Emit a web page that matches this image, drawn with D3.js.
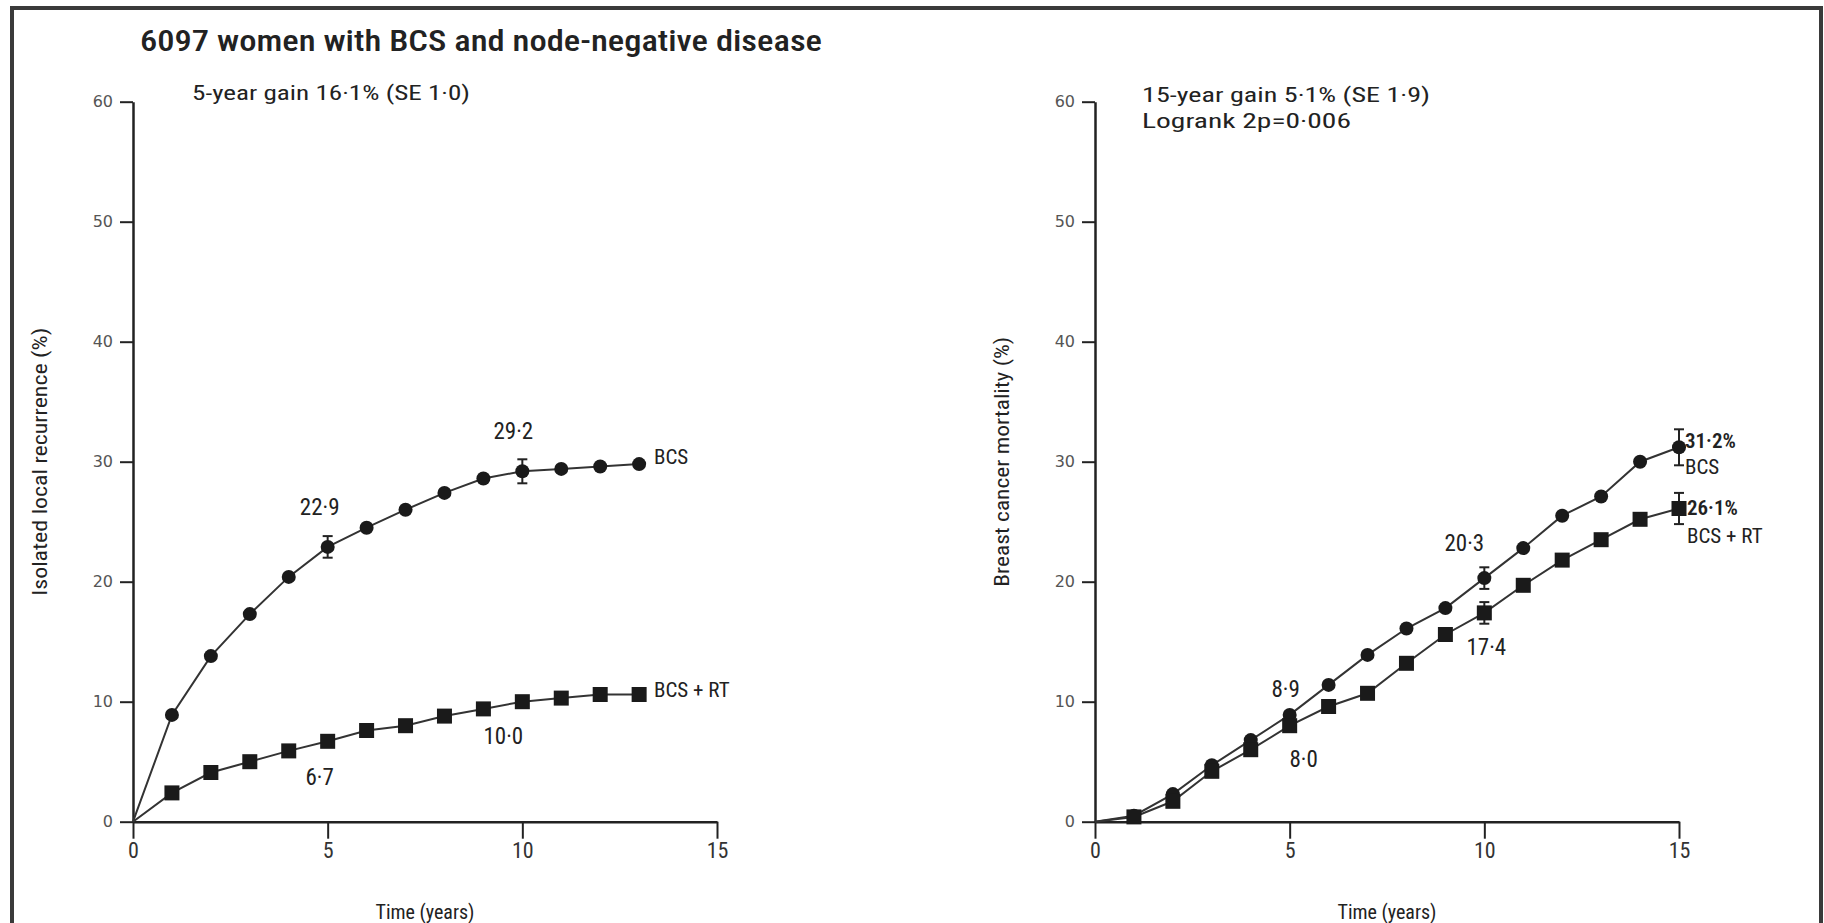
<!DOCTYPE html>
<html>
<head>
<meta charset="utf-8">
<script src="https://cdn.jsdelivr.net/npm/d3@7"></script>
<style>
  html, body { margin: 0; padding: 0; background: #fff; }
  svg { display: block; }
  .cond { font-family: "Liberation Sans Narrow", "Roboto Condensed", "DejaVu Sans Condensed", "Liberation Sans", sans-serif; font-stretch: condensed; }
</style>
</head>
<body>
<script>
// ---------------- DATA ----------------
const titleText = "6097 women with BCS and node-negative disease";
const leftNote = ["5-year gain 16·1% (SE 1·0)"];
const rightNote = ["15-year gain 5·1% (SE 1·9)", "Logrank 2p=0·006"];
const leftYLabel = "Isolated local recurrence (%)";
const rightYLabel = "Breast cancer mortality (%)";
const xLabel = "Time (years)";
const yTicks = [0, 10, 20, 30, 40, 50, 60];
const xTicks = [0, 5, 10, 15];

// Left panel: isolated local recurrence, years 0..13
const yearsLeft = [0, 1, 2, 3, 4, 5, 6, 7, 8, 9, 10, 11, 12, 13];
const bcsLocal   = [0, 8.9, 13.8, 17.3, 20.4, 22.9, 24.5, 26.0, 27.4, 28.6, 29.2, 29.4, 29.6, 29.8];
const bcsRtLocal = [0, 2.4, 4.1, 5.0, 5.9, 6.7, 7.6, 8.0, 8.8, 9.4, 10.0, 10.3, 10.6, 10.6];
const bcsLocalErr   = [{year: 5, se: 0.9}, {year: 10, se: 1.0}];
const bcsRtLocalErr = [];

// Right panel: breast cancer mortality, years 0..15
const yearsRight = [0, 1, 2, 3, 4, 5, 6, 7, 8, 9, 10, 11, 12, 13, 14, 15];
const bcsMort   = [0, 0.5, 2.3, 4.7, 6.8, 8.9, 11.4, 13.9, 16.1, 17.8, 20.3, 22.8, 25.5, 27.1, 30.0, 31.2];
const bcsRtMort = [0, 0.4, 1.7, 4.2, 6.0, 8.0, 9.6, 10.7, 13.2, 15.6, 17.4, 19.7, 21.8, 23.5, 25.2, 26.1];
const bcsMortErr   = [{year: 10, se: 0.9}, {year: 15, se: 1.5}];
const bcsRtMortErr = [{year: 10, se: 0.9}, {year: 15, se: 1.3}];

// Value annotations: [year, value text, dx, dy] relative to the point
const leftAnnBcs   = [[5, "22·9", -8, -40], [10, "29·2", -9, -40]];
const leftAnnRt    = [[5, "6·7", -8, 36], [10, "10·0", -19, 34]];
const rightAnnBcs  = [[5, "8·9", -4, -26], [10, "20·3", -20, -35]];
const rightAnnRt   = [[5, "8·0", 14, 33], [10, "17·4", 2, 34]];

// ---------------- LAYOUT ----------------
const W = 1824, H = 923;
const svg = d3.select("body").append("svg").attr("width", W).attr("height", H);

// frame (top, left, right edges)
svg.append("path")
  .attr("d", `M12,${H} L12,8 L1821,8 L1821,${H}`)
  .attr("fill", "none").attr("stroke", "#3a3a3a").attr("stroke-width", 4);

svg.append("text").attr("class", "cond")
  .attr("x", 140).attr("y", 51)
  .attr("font-size", 29).attr("font-weight", 500).attr("fill", "#222")
  .attr("textLength", 682).attr("lengthAdjust", "spacingAndGlyphs")
  .text(titleText);

const y0 = 821.7, y60 = 101.7;

function panel(cfg) {
  const x = d3.scaleLinear().domain([0, 15]).range([cfg.x0, cfg.x0 + 584]);
  const y = d3.scaleLinear().domain([0, 60]).range([y0, y60]);
  const g = svg.append("g");

  // Y axis
  const ya = g.append("g").attr("transform", `translate(${cfg.x0},0)`)
    .call(d3.axisLeft(y).tickValues(yTicks).tickSize(13).tickSizeOuter(0).tickPadding(7));
  ya.select(".domain").attr("stroke", "#222").attr("stroke-width", 2.5);
  ya.selectAll(".tick line").attr("stroke", "#222").attr("stroke-width", 2);
  ya.selectAll(".tick text").attr("font-family", "DejaVu Sans, sans-serif")
    .attr("font-size", 16).attr("fill", "#555");

  // X axis
  const xa = g.append("g").attr("transform", `translate(0,${y0})`)
    .call(d3.axisBottom(x).tickValues(xTicks).tickSize(17).tickSizeOuter(0).tickPadding(4));
  xa.select(".domain").attr("stroke", "#222").attr("stroke-width", 2.5);
  xa.selectAll(".tick line").attr("stroke", "#222").attr("stroke-width", 2);
  xa.selectAll(".tick text").attr("class", "cond").attr("font-size", 22).attr("fill", "#333");

  // axis titles
  g.append("text").attr("class", "cond")
    .attr("x", cfg.x0 + 292).attr("y", 919).attr("text-anchor", "middle")
    .attr("font-size", 21).attr("fill", "#222")
    .attr("textLength", 99).attr("lengthAdjust", "spacingAndGlyphs")
    .text(xLabel);
  g.append("text").attr("class", "cond")
    .attr("transform", `translate(${cfg.ylabX},${(y0 + y60) / 2}) rotate(-90)`)
    .attr("text-anchor", "middle").attr("font-size", 20).attr("fill", "#222")
    .attr("textLength", cfg.ylabLen).attr("lengthAdjust", "spacingAndGlyphs")
    .text(cfg.ylab);

  // notes
  cfg.notes.forEach((t, i) => {
    g.append("text").attr("class", "cond")
      .attr("x", cfg.noteX).attr("y", cfg.noteY + i * 26)
      .attr("font-size", 21).attr("fill", "#222")
      .attr("textLength", cfg.noteLen[i]).attr("lengthAdjust", "spacingAndGlyphs")
      .text(t);
  });

  const line = d3.line().x(d => x(d[0])).y(d => y(d[1]));

  cfg.series.forEach(s => {
    const pts = cfg.years.map((yr, i) => [yr, s.values[i]]);
    g.append("path").datum(pts).attr("d", line)
      .attr("fill", "none").attr("stroke", "#333").attr("stroke-width", 2);

    // error bars
    s.err.forEach(e => {
      const v = s.values[cfg.years.indexOf(e.year)];
      const cx = x(e.year);
      const eg = g.append("g").attr("stroke", "#222").attr("stroke-width", 2);
      eg.append("line").attr("x1", cx).attr("x2", cx).attr("y1", y(v - e.se)).attr("y2", y(v + e.se));
      eg.append("line").attr("x1", cx - 5).attr("x2", cx + 5).attr("y1", y(v - e.se)).attr("y2", y(v - e.se));
      eg.append("line").attr("x1", cx - 5).attr("x2", cx + 5).attr("y1", y(v + e.se)).attr("y2", y(v + e.se));
    });

    const mp = pts.filter(p => p[0] > 0);
    if (s.shape === "circle") {
      g.selectAll(null).data(mp).enter().append("circle")
        .attr("cx", d => x(d[0])).attr("cy", d => y(d[1])).attr("r", 7).attr("fill", "#1a1a1a");
    } else {
      g.selectAll(null).data(mp).enter().append("rect")
        .attr("x", d => x(d[0]) - 7.5).attr("y", d => y(d[1]) - 7.5)
        .attr("width", 15).attr("height", 15).attr("fill", "#1a1a1a");
    }

    s.ann.forEach(a => {
      const v = s.values[cfg.years.indexOf(a[0])];
      g.append("text").attr("class", "cond")
        .attr("x", x(a[0]) + a[2]).attr("y", y(v) + a[3]).attr("dy", "0.35em")
        .attr("text-anchor", "middle").attr("font-size", 23).attr("fill", "#222")
        .text(a[1]);
    });
  });

  cfg.endLabels.forEach(l => {
    g.append("text").attr("class", "cond")
      .attr("x", l.x).attr("y", l.y).attr("dy", "0.35em")
      .attr("font-size", 21).attr("font-weight", l.bold ? 600 : 400).attr("fill", "#222")
      .text(l.t);
  });
}

panel({
  x0: 133, ylab: leftYLabel, ylabX: 47, ylabLen: 268,
  notes: leftNote, noteX: 192, noteY: 100, noteLen: [278],
  years: yearsLeft,
  series: [
    {values: bcsLocal, shape: "circle", err: bcsLocalErr, ann: leftAnnBcs},
    {values: bcsRtLocal, shape: "square", err: bcsRtLocalErr, ann: leftAnnRt}
  ],
  endLabels: [
    {t: "BCS", x: 654, y: 457},
    {t: "BCS + RT", x: 654, y: 690}
  ]
});

panel({
  x0: 1095, ylab: rightYLabel, ylabX: 1009, ylabLen: 250,
  notes: rightNote, noteX: 1142, noteY: 102, noteLen: [288, 209],
  years: yearsRight,
  series: [
    {values: bcsMort, shape: "circle", err: bcsMortErr, ann: rightAnnBcs},
    {values: bcsRtMort, shape: "square", err: bcsRtMortErr, ann: rightAnnRt}
  ],
  endLabels: [
    {t: "31·2%", x: 1685, y: 441, bold: true},
    {t: "BCS", x: 1685, y: 467},
    {t: "26·1%", x: 1687, y: 508, bold: true},
    {t: "BCS + RT", x: 1687, y: 536}
  ]
});
</script>
</body>
</html>
